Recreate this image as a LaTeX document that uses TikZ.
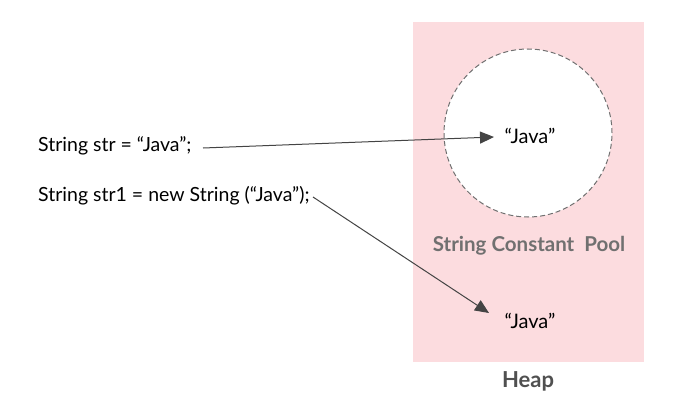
\documentclass[tikz,border=0pt]{standalone}
\usepackage{fontspec}
\setmainfont{Lato}
\usetikzlibrary{arrows.meta}
\definecolor{heappink}{HTML}{FCDCDF}
\definecolor{arrowgray}{HTML}{444444}
\definecolor{poolgray}{HTML}{707070}
\definecolor{heapgray}{HTML}{505050}
\tikzset{
  code/.style={anchor=west, font=\fontsize{19.5}{22}\selectfont, text=black, inner sep=0pt},
  strval/.style={font=\fontsize{20}{22}\selectfont, text=black, inner sep=0pt},
  ptr/.style={draw=arrowgray, line width=1pt, -{Triangle[length=14pt,width=12pt]}},
}
\begin{document}
\begin{tikzpicture}[x=1pt,y=-1pt]
\useasboundingbox (0,0) rectangle (676,401);
\fill[white] (0,0) rectangle (676,401);
\node[fill=heappink, minimum width=231pt, minimum height=340pt, inner sep=0pt, anchor=north west] (heap) at (413,22) {};
\node[circle, draw=poolgray, fill=white, dashed, dash pattern=on 5pt off 3pt, line width=1pt, minimum size=168pt, inner sep=0pt] (pool) at (528,133) {};
\node[code] (s1) at (38,146) {String str = “Java”;};
\node[code] (s2) at (38,196) {String str1 = new String (“Java”);};
\node[strval] (j1) at (530,136) {“Java”};
\node[strval] (j2) at (530,321) {“Java”};
\node[font=\fontsize{20.5}{24}\selectfont\bfseries, text=poolgray] (poollabel) at (529,246) {String Constant\ \ Pool};
\node[font=\fontsize{22}{26}\selectfont\bfseries, text=heapgray] (heaplabel) at (528,381) {Heap};
\coordinate (a1s) at (203,148);
\coordinate (a1e) at (494,137);
\coordinate (a2s) at (313,197);
\coordinate (a2e) at (489,313);
\draw[ptr] (a1s) -- (a1e);
\draw[ptr] (a2s) -- (a2e);
\end{tikzpicture}
\end{document}
